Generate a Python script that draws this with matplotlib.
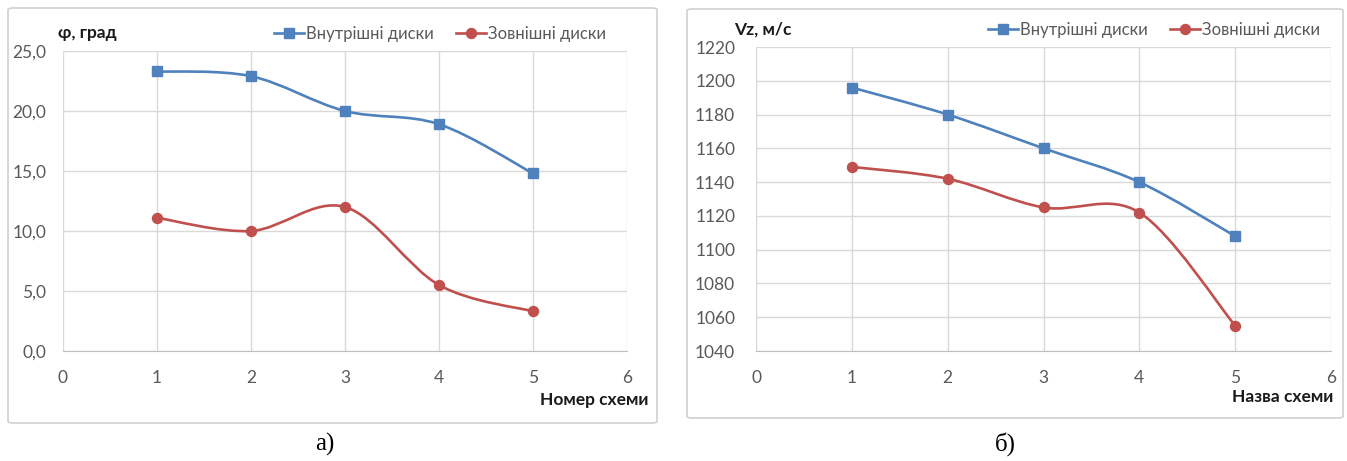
"""Два графіки: кут та швидкість для внутрішніх і зовнішніх дисків."""

import matplotlib
matplotlib.use("Agg")
import matplotlib.pyplot as plt
import numpy as np
from matplotlib.lines import Line2D
from matplotlib.patches import FancyBboxPatch, PathPatch
from matplotlib.path import Path

# дані
schemes = [1, 2, 3, 4, 5]
phi_inner = [23.3, 22.9, 20.0, 18.9, 14.8]
phi_outer = [11.1, 10.0, 12.0, 5.5, 3.3]
vz_inner = [1196, 1180, 1160, 1140, 1108]
vz_outer = [1149, 1142, 1125, 1122, 1055]

phi_ticks = [0, 5, 10, 15, 20, 25]
vz_ticks = list(range(1040, 1221, 20))
x_ticks = [0, 1, 2, 3, 4, 5, 6]

series_names = ["Внутрішні диски", "Зовнішні диски"]

BLUE = "#4F81BD"
RED = "#C0504D"
GRID = "#D9D9D9"
TICK = "#595959"
SANS = ["Liberation Sans Narrow", "Lato", "DejaVu Sans"]
SERIF = ["Liberation Serif", "DejaVu Serif"]

W, H = 1347, 461


def smooth_path(xs, ys):
    """Згладжена лінія як у Excel (Catmull-Rom через кубічні Безьє)."""
    pts = np.column_stack([xs, ys]).astype(float)
    ext = np.vstack([pts[0], pts, pts[-1]])
    verts = [tuple(pts[0])]
    codes = [Path.MOVETO]
    for i in range(1, len(ext) - 2):
        p0, p1, p2, p3 = ext[i - 1], ext[i], ext[i + 1], ext[i + 2]
        c1 = p1 + (p2 - p0) / 6
        c2 = p2 - (p3 - p1) / 6
        verts += [tuple(c1), tuple(c2), tuple(p2)]
        codes += [Path.CURVE4] * 3
    return Path(verts, codes)


def px_axes(fig, left, right, top, bottom):
    ax = fig.add_axes([left / W, (H - bottom) / H, (right - left) / W, (bottom - top) / H])
    ax.set_facecolor("none")
    ax.set_zorder(2)
    return ax


def draw_panel(ax, inner, outer, yticks, fmt, ypad):
    for vals, color, marker in [(inner, BLUE, "s"), (outer, RED, "o")]:
        ax.add_patch(PathPatch(smooth_path(schemes, vals), facecolor="none",
                               edgecolor=color, linewidth=1.9, zorder=3))
        ax.plot(schemes, vals, linestyle="none", marker=marker, markersize=7.2,
                color=color, zorder=4)
    ax.set_xlim(x_ticks[0], x_ticks[-1])
    ax.set_ylim(yticks[0], yticks[-1])
    ax.set_xticks(x_ticks)
    ax.set_yticks(yticks)
    ax.set_yticklabels([fmt(v) for v in yticks])
    ax.grid(True, color=GRID, linewidth=1)
    for side in ["top", "right", "left"]:
        ax.spines[side].set_visible(False)
    ax.spines["bottom"].set_color("#BFBFBF")
    ax.tick_params(length=0, labelcolor=TICK, labelsize=12.5)
    ax.tick_params(axis="x", pad=14)
    ax.tick_params(axis="y", pad=ypad)
    for lab in ax.get_xticklabels() + ax.get_yticklabels():
        lab.set_family(SANS)
    ax.set_axisbelow(True)


fig = plt.figure(figsize=(W / 100, H / 100), dpi=100)

# рамки діаграм
for x0, y0, x1, y1 in [(8, 8, 657, 423), (687, 9, 1343, 418)]:
    fig.patches.append(FancyBboxPatch(
        (x0 / W, 1 - y1 / H), (x1 - x0) / W, (y1 - y0) / H,
        boxstyle="round,pad=0,rounding_size=0.004", transform=fig.transFigure,
        facecolor="white", edgecolor="#D0D0D0", linewidth=1.2, zorder=-1))

ax1 = px_axes(fig, 63, 627, 51, 351)
draw_panel(ax1, phi_inner, phi_outer, phi_ticks,
           lambda v: f"{v:.1f}".replace(".", ","), 12)

ax2 = px_axes(fig, 756, 1331, 47, 351)
draw_panel(ax2, vz_inner, vz_outer, vz_ticks, lambda v: f"{v}", 15)

handles = [
    Line2D([], [], color=BLUE, marker="s", markersize=7.2, linewidth=1.9),
    Line2D([], [], color=RED, marker="o", markersize=7.2, linewidth=1.9),
]
for cx, cy in [(440, 34), (1154, 30)]:
    leg = fig.legend(handles, series_names, loc="center", ncol=2,
                     bbox_to_anchor=(cx / W, 1 - cy / H), frameon=False,
                     handlelength=1.8, handletextpad=0.15, columnspacing=1.3,
                     borderpad=0, prop={"family": SANS, "size": 12})
    leg.set_zorder(3)
    for t in leg.get_texts():
        t.set_color(TICK)


def ftext(x, y, s, **kw):
    fig.text(x / W, 1 - y / H, s, **kw)


bold = dict(family=SANS, fontsize=12.5, fontweight="bold", color="#1A1A1A", va="center")
ftext(58, 33, "φ, град", ha="left", **bold)
ftext(734, 30, "Vz, м/с", ha="left", **bold)
ftext(648, 400, "Номер схеми", ha="right", **bold)
ftext(1333, 397, "Назва схеми", ha="right", **bold)

ftext(325, 444, "а)", ha="center", va="center", family=SERIF, fontsize=18)
ftext(1005, 444, "б)", ha="center", va="center", family=SERIF, fontsize=18)

fig.savefig("out.png", dpi=100)
plt.close(fig)
